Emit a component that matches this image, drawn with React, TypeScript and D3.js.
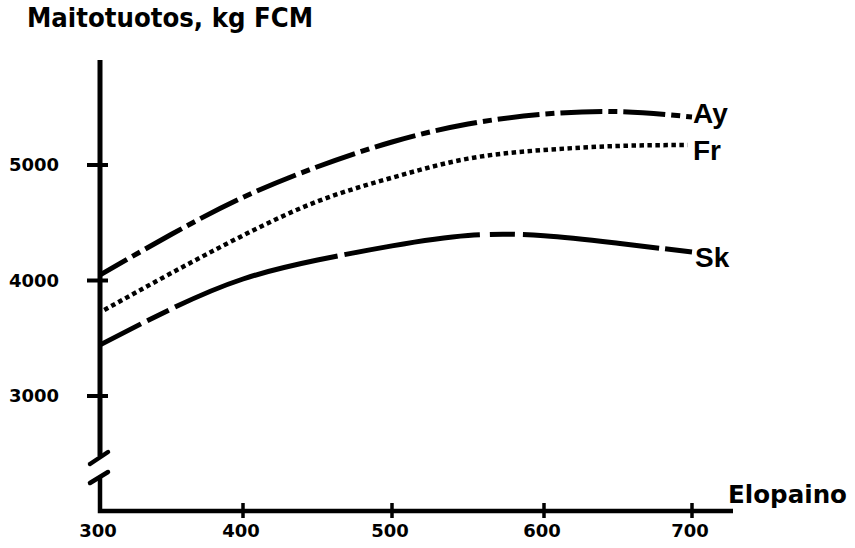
import React from "react";
import * as d3 from "d3";

const xTicks = [300, 400, 500, 600, 700];
const yTicks = [3000, 4000, 5000];

const weights = [300, 350, 400, 450, 500, 550, 600, 650, 700];
const ayValues = [4048, 4400, 4720, 4985, 5199, 5355, 5440, 5462, 5416];
const frWeights = [303, 350, 400, 450, 500, 550, 600, 650, 697];
const frValues = [3745, 4065, 4390, 4685, 4890, 5055, 5130, 5165, 5173];
const skValues = [3442, 3755, 4013, 4177, 4300, 4390, 4388, 4322, 4247];

const seriesNames = ["Ay", "Fr", "Sk"];

const W = 855;
const H = 548;

export default function App() {
  const x = d3.scaleLinear().domain([300, 400, 500, 600, 700]).range([100, 243, 392, 544, 692]);
  const y = d3.scaleLinear().domain([3000, 5000]).range([396, 165]);

  const line = d3
    .line<[number, number]>()
    .x((d) => x(d[0]))
    .y((d) => y(d[1]))
    .curve(d3.curveNatural);

  const ay = line(weights.map((w, i) => [w, ayValues[i]]) as [number, number][]) || "";
  const fr = line(frWeights.map((w, i) => [w, frValues[i]]) as [number, number][]) || "";
  const sk = line(weights.map((w, i) => [w, skValues[i]]) as [number, number][]) || "";

  const axisX = x(300);
  const axisY = 511;
  const tickFont = "'DejaVu Sans', sans-serif";

  return (
    <svg
      width={W}
      height={H}
      viewBox={`0 0 ${W} ${H}`}
      style={{ position: "absolute", left: 0, top: 0, background: "#fff" }}
    >
      <rect x={0} y={0} width={W} height={H} fill="#fff" />
      {/* title */}
      <text
        x={27}
        y={27}
        fontFamily={tickFont}
        fontWeight="bold"
        fontSize={26}
        textLength={286}
        lengthAdjust="spacingAndGlyphs"
        fill="#000"
      >
        Maitotuotos, kg FCM
      </text>

      {/* y axis with break */}
      <g stroke="#000" fill="none" strokeLinecap="butt">
        <line x1={axisX} y1={60} x2={axisX} y2={456} strokeWidth={5} />
        <line x1={90} y1={464} x2={108} y2={452} strokeWidth={4.5} strokeLinecap="round" />
        <line x1={90} y1={483} x2={108} y2={472} strokeWidth={4.5} strokeLinecap="round" />
        <path d={`M${axisX},476 L${axisX},${axisY} L733,${axisY}`} strokeWidth={4.5} />
        {yTicks.map((t) => (
          <line key={t} x1={87} x2={108} y1={y(t)} y2={y(t)} strokeWidth={4} />
        ))}
        {xTicks.slice(1).map((t) => (
          <line key={t} x1={x(t)} x2={x(t)} y1={axisY - 8} y2={axisY + 7} strokeWidth={3.5} />
        ))}
      </g>

      {yTicks.map((t) => (
        <text
          key={t}
          x={59}
          y={y(t)}
          dy="0.36em"
          textAnchor="end"
          fontFamily={tickFont}
          fontWeight="bold"
          fontSize={18}
          fill="#000"
        >
          {t}
        </text>
      ))}
      {xTicks.map((t) => (
        <text
          key={t}
          x={x(t) - 2}
          y={537}
          textAnchor="middle"
          fontFamily={tickFont}
          fontWeight="bold"
          fontSize={18}
          fill="#000"
        >
          {t}
        </text>
      ))}

      <text
        x={728}
        y={503}
        fontFamily={tickFont}
        fontWeight="bold"
        fontSize={24.5}
        textLength={119}
        lengthAdjust="spacingAndGlyphs"
        fill="#000"
      >
        Elopaino
      </text>

      {/* series */}
      <path d={ay} fill="none" stroke="#000" strokeWidth={5} strokeDasharray="42 6 9 6" strokeDashoffset={11} />
      <path d={fr} fill="none" stroke="#000" strokeWidth={4.5} strokeDasharray="4.5 3.5" />
      <path
        d={sk}
        fill="none"
        stroke="#000"
        strokeWidth={5}
        strokeDasharray="46 7 24 7 171 7 137 10 25 8 137 6 30"
      />

      {seriesNames.map((n, i) => {
        const pos = [
          [693, 123],
          [693, 160],
          [695, 267],
        ][i];
        return (
          <text
            key={n}
            x={pos[0]}
            y={pos[1]}
            fontFamily="'Liberation Sans', Arial, sans-serif"
            fontWeight="bold"
            fontSize={28}
            fill="#000"
          >
            {n}
          </text>
        );
      })}
    </svg>
  );
}
